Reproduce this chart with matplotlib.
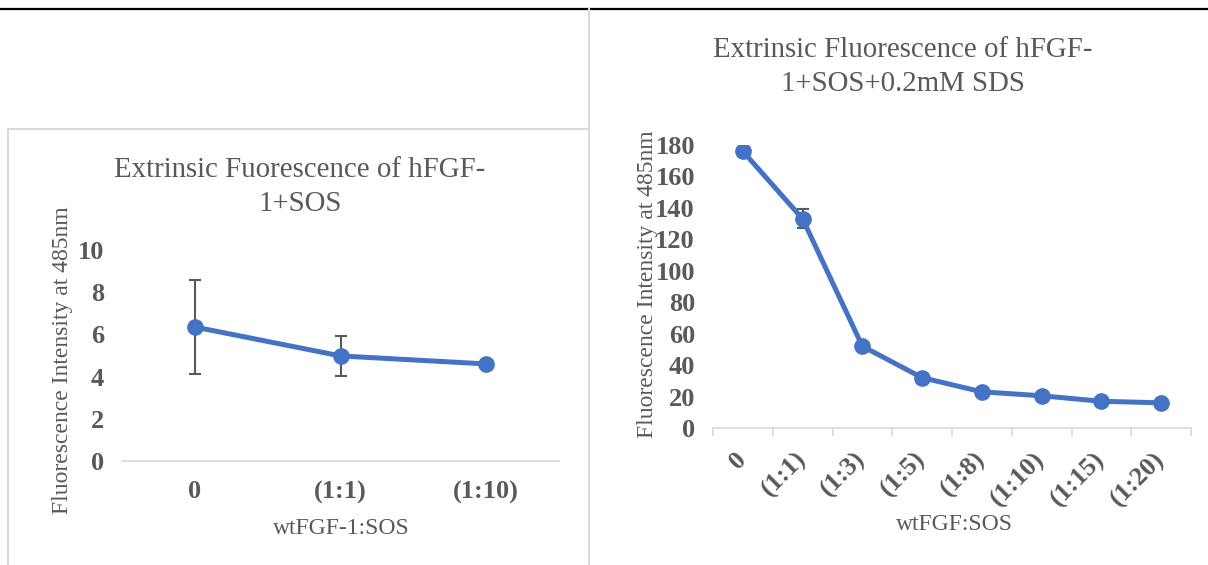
import matplotlib.pyplot as plt
from matplotlib.lines import Line2D

# left chart: hFGF-1 + SOS
left_cats = ['0', '(1:1)', '(1:10)']
left_vals = [6.35, 4.98, 4.6]
left_err = [2.23, 0.95, 0.1]

# right chart: hFGF-1 + SOS + 0.2mM SDS
right_cats = ['0', '(1:1)', '(1:3)', '(1:5)', '(1:8)', '(1:10)', '(1:15)', '(1:20)']
right_vals = [176, 133, 52, 32, 23, 20.5, 17, 16]
right_err = [3, 6, 1, 1, 1, 1, 1, 1]

plt.rcParams['font.family'] = ['Liberation Serif', 'DejaVu Serif']
txt = '#595959'
grid = '#D9D9D9'
blue = '#4472C4'

W, H = 1208, 565
fig = plt.figure(figsize=(W / 100, H / 100), dpi=100)


def box(x0, y0, x1, y1):
    return [x0 / W, 1 - y1 / H, (x1 - x0) / W, (y1 - y0) / H]


def style(ax, ymax, step):
    for s in ['left', 'top', 'right']:
        ax.spines[s].set_visible(False)
    ax.spines['bottom'].set_color(grid)
    ax.spines['bottom'].set_linewidth(1.2)
    ax.set_ylim(0, ymax)
    ax.set_yticks(range(0, ymax + 1, step))
    ax.tick_params(axis='y', length=0, pad=13, labelsize=19, labelcolor=txt)
    for lab in ax.get_yticklabels():
        lab.set_fontweight('bold')


def draw(ax, cats, vals, err):
    x = list(range(len(cats)))
    ax.errorbar(x, vals, yerr=err, color=blue, lw=3.6, marker='o', ms=11,
                ecolor=txt, elinewidth=1.5, capsize=4.5, capthick=1.5, zorder=3)
    ax.set_xlim(-0.5, len(cats) - 0.5)


# left
ax1 = fig.add_axes(box(122, 250, 559, 461))
draw(ax1, left_cats, left_vals, left_err)
style(ax1, 10, 2)
ax1.set_xticks(range(len(left_cats)))
ax1.set_xticklabels(left_cats, fontsize=19, fontweight='bold', color=txt)
ax1.tick_params(axis='x', length=0, pad=14)
ax1.set_ylabel('Fluorescence Intensity at 485nm', fontsize=17, color=txt)
ax1.yaxis.set_label_coords(-0.113, 0.479)
ax1.set_xlabel('wtFGF-1:SOS', fontsize=17, color=txt)
ax1.xaxis.set_label_coords(0.503, -0.27)

# right
ax2 = fig.add_axes(box(713, 145, 1191, 428))
draw(ax2, right_cats, right_vals, right_err)
style(ax2, 180, 20)
ax2.set_xticks(range(len(right_cats)))
ax2.set_xticklabels(right_cats, fontsize=19, fontweight='bold', color=txt,
                    rotation=45, ha='right', va='center', rotation_mode='anchor')
ax2.set_xticks([i - 0.5 for i in range(len(right_cats) + 1)], minor=True)
ax2.tick_params(axis='x', which='major', length=0, pad=20)
ax2.tick_params(axis='x', which='minor', length=6, color=grid, width=1.2)
ax2.set_ylabel('Fluorescence Intensity at 485nm', fontsize=17, color=txt)
ax2.yaxis.set_label_coords(-0.115, 0.509)
ax2.set_xlabel('wtFGF:SOS', fontsize=17, color=txt)
ax2.xaxis.set_label_coords(0.506, -0.305)

# titles
fig.text(300 / W, 1 - 187 / H, 'Extrinsic Fuorescence of hFGF-\n1+SOS',
         ha='center', va='center', fontsize=20.8, color=txt, linespacing=1.38)
fig.text(903 / W, 1 - 67 / H, 'Extrinsic Fluorescence of hFGF-\n1+SOS+0.2mM SDS',
         ha='center', va='center', fontsize=20.8, color=txt, linespacing=1.38)

# page decorations: top rule, left chart frame, cell divider
fig.add_artist(Line2D([0, 1], [1 - 9 / H, 1 - 9 / H], color='black', lw=1.6,
                      transform=fig.transFigure))
fig.add_artist(Line2D([8 / W, 8 / W, 589 / W], [0, 1 - 129 / H, 1 - 129 / H],
                      color=grid, lw=1.5, transform=fig.transFigure))
fig.add_artist(Line2D([589 / W, 589 / W], [0, 1 - 9 / H], color=grid, lw=1.5,
                      transform=fig.transFigure))

fig.savefig('out.png', dpi=100)
